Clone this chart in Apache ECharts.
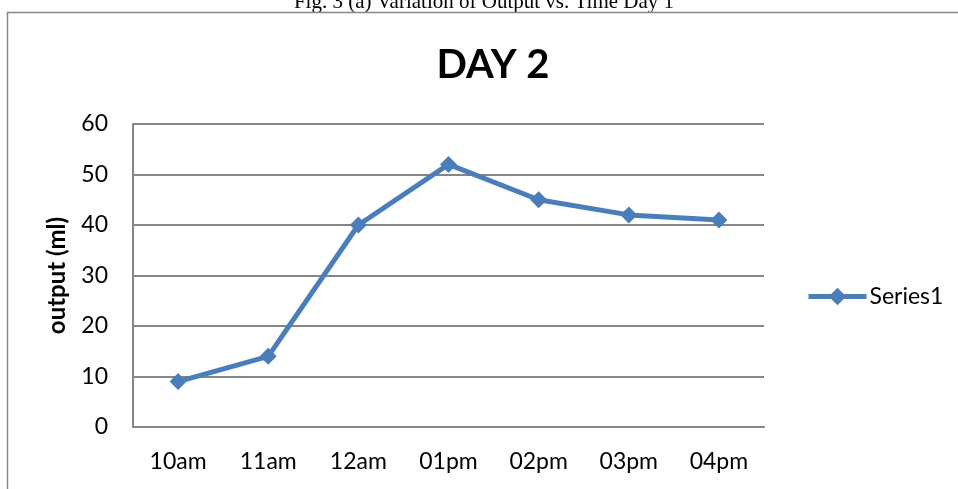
<!DOCTYPE html>
<html>
<head>
<meta charset="utf-8">
<script src="https://cdn.jsdelivr.net/npm/echarts@6/dist/echarts.min.js"></script>
<style>
  html, body { margin: 0; padding: 0; background: #fff; }
  #chart { width: 958px; height: 489px; }
</style>
</head>
<body>
<div id="chart"></div>
<script>
// Hourly output readings for day 2
const hours = ['10am', '11am', '12am', '01pm', '02pm', '03pm', '04pm'];
const outputMl = [9, 14, 40, 52, 45, 42, 41];
const yTicks = { min: 0, max: 60, interval: 10 };

const lineBlue = '#4a7ebb';
const gridGray = '#868686';
const uiFont = 'Lato, Carlito, Calibri, sans-serif';

const chart = echarts.init(document.getElementById('chart'), null, { renderer: 'canvas' });

chart.setOption({
  animation: false,
  backgroundColor: '#fff',
  graphic: [
    // caption above the chart frame
    {
      type: 'text',
      x: 484,
      y: 13,
      style: {
        text: 'Fig. 3 (a) Variation of Output vs. Time Day 1',
        font: '21px "Liberation Serif", "Times New Roman", serif',
        fill: '#000',
        align: 'center',
        verticalAlign: 'bottom'
      }
    },
    // chart frame (top and left edges visible)
    {
      type: 'polyline',
      shape: { points: [[7.5, 489], [7.5, 12.5], [958, 12.5]] },
      style: { stroke: gridGray, lineWidth: 1.5, fill: 'none' }
    }
  ],
  title: {
    text: 'DAY 2',
    left: 488,
    textAlign: 'center',
    top: 40,
    textStyle: { fontFamily: uiFont, fontWeight: 'bold', fontSize: 40, color: '#000' }
  },
  legend: {
    left: 801,
    top: 280,
    orient: 'vertical',
    data: [{ name: 'Series1' }],
    itemWidth: 58,
    itemHeight: 22,
    itemGap: 4,
    textStyle: { fontFamily: uiFont, fontSize: 23, color: '#000', padding: [0, 0, 0, -2] },
    itemStyle: { color: lineBlue },
    lineStyle: { width: 5, color: lineBlue }
  },
  grid: { left: 133, right: 194, top: 124, bottom: 62, containLabel: false },
  xAxis: {
    type: 'category',
    data: hours,
    boundaryGap: true,
    axisLine: { show: true, lineStyle: { color: gridGray, width: 2 } },
    axisTick: { show: false },
    axisLabel: { margin: 23, fontFamily: uiFont, fontSize: 23, color: '#000' }
  },
  yAxis: {
    type: 'value',
    min: yTicks.min,
    max: yTicks.max,
    interval: yTicks.interval,
    name: 'output (ml)',
    nameLocation: 'middle',
    nameGap: 64,
    nameRotate: 90,
    nameTextStyle: { fontFamily: uiFont, fontWeight: 'bold', fontSize: 24, color: '#000' },
    axisLine: { show: true, lineStyle: { color: gridGray, width: 2 } },
    axisTick: { show: false },
    axisLabel: { margin: 25, fontFamily: uiFont, fontSize: 23, color: '#000' },
    splitLine: { show: true, lineStyle: { color: gridGray, width: 2 } }
  },
  series: [{
    name: 'Series1',
    type: 'line',
    data: outputMl,
    symbol: 'diamond',
    symbolSize: 17,
    showAllSymbol: true,
    lineStyle: { color: lineBlue, width: 5 },
    itemStyle: { color: lineBlue }
  }]
});
</script>
</body>
</html>
